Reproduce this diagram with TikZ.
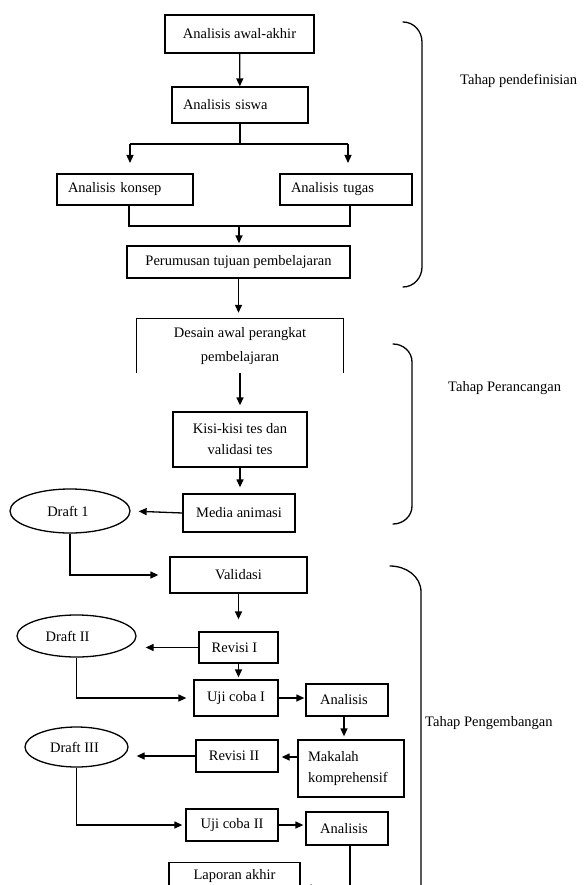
\documentclass[tikz,border=0pt]{standalone}
\usepackage{fontspec}
\setmainfont{Liberation Serif}
\usetikzlibrary{shapes.geometric,arrows.meta}
\begin{document}
\begin{tikzpicture}[x=1pt,y=-1pt,
  every node/.style={font=\fontsize{14.5}{21}\selectfont, inner sep=0pt},
  bx/.style={draw, line width=1.3pt, rectangle, align=center},
  lbx/.style={draw, line width=1.3pt, rectangle, align=left, inner xsep=11pt},
  el/.style={draw, line width=1.3pt, ellipse},
  ar/.style={-{Triangle[length=8pt,width=7pt]}, line width=1.3pt},
  ln/.style={line width=1.3pt},
  brc/.style={line width=1.3pt, line cap=round}]
\useasboundingbox (0,0) rectangle (588,885);
\clip (0,0) rectangle (588,885);

% ---- Tahap pendefinisian ----
\node[bx, minimum width=149pt, minimum height=38pt] (b1) at (239.5,34) {Analisis awal-akhir};
\node[lbx, text width=114pt, minimum height=36pt] (b2) at (240,105) {Analisis siswa};
\node[lbx, text width=114pt, minimum height=31pt] (b3) at (125,189.5) {Analisis konsep};
\node[lbx, text width=110pt, minimum height=31pt] (b4) at (346,189.5) {Analisis tugas};
\node[bx, minimum width=223pt, minimum height=32pt] (b5) at (238.5,262) {Perumusan tujuan pembelajaran};

\coordinate (s) at (240,144);
\coordinate (sl) at (130,144);
\coordinate (sr) at (348,144);
\coordinate (tl) at (130,163);
\coordinate (tr) at (348,163);
\coordinate (j) at (239,226);

\draw[ar] (b1) -- (b2);
\draw[ln] (b2.south) -- (s);
\draw[ln] (sl) -- (sr);
\draw[ar] (sl) -- (tl);
\draw[ar] (sr) -- (tr);
\draw[ln] ([xshift=4pt]b3.south) |- (j) -| ([xshift=4pt]b4.south);
\draw[ar, shorten >=2pt] (j) -- (j |- b5.north);

% ---- Tahap perancangan ----
\node[font=\fontsize{14.5}{24}\selectfont, align=center, minimum width=206pt, minimum height=54pt] (desain) at (240,346) {Desain awal perangkat\\pembelajaran};
\draw[ln] (desain.south west) -- (desain.north west) -- (desain.north east) -- (desain.south east);
\node[bx, minimum width=134pt, minimum height=55pt] (b6) at (240,439.5) {Kisi-kisi tes dan\\validasi tes};
\node[bx, minimum width=112pt, minimum height=38pt] (b7) at (239,513) {Media animasi};
\node[el, minimum width=120pt, minimum height=44pt] (e1) at (70,511) {Draft 1\hspace*{4pt}};

\draw[ar, shorten >=6pt] (b5.south) -- (b5.south |- desain.north);
\draw[ar, shorten >=6pt] (desain.south) -- (b6.north);
\draw[ar, shorten >=6pt] (b6.south) -- (b6.south |- b7.north);
\draw[ar, shorten >=8pt] (b7.west) -- (e1.east);

% ---- Tahap pengembangan ----
\node[bx, minimum width=137pt, minimum height=36pt] (b8) at (238.5,575) {Validasi};
\node[bx, minimum width=79pt, minimum height=31pt] (b9) at (238.5,647.5) {Revisi I\hspace*{8pt}};
\node[el, minimum width=119pt, minimum height=42pt] (e2) at (76.5,636) {Draft II\hspace*{18pt}};
\node[bx, minimum width=84pt, minimum height=36pt] (b10) at (236,698) {Uji coba I};
\node[bx, minimum width=82pt, minimum height=32pt] (b11) at (347,700) {Analisis\hspace*{6pt}};
\node[lbx, text width=86pt, minimum height=57pt, inner xsep=10pt] (b12) at (351,768.5) {Makalah\\komprehensif};
\node[bx, minimum width=82pt, minimum height=32pt] (b13) at (237,756) {Revisi II\hspace*{6pt}};
\node[el, minimum width=103pt, minimum height=40pt] (e3) at (76.5,747) {Draft III\hspace*{4pt}};
\node[bx, minimum width=92pt, minimum height=32pt] (b14) at (232,825) {Uji coba II};
\node[bx, minimum width=82pt, minimum height=33pt] (b15) at (347,828.5) {Analisis\hspace*{6pt}};
\node[bx, anchor=north, minimum width=131pt, inner ysep=7pt] (b16) at (234.5,862) {Laporan akhir};

\coordinate (k) at (350,888);

\draw[ar, shorten >=11pt] (e1.south) |- (b8.west);
\draw[ar, shorten >=12pt] (b8.south) -- (b8.south |- b9.north);
\draw[ar, shorten >=9pt] (b9.west) -- (b9.west -| e2.east);
\draw[ar, shorten >=2pt] (b9.south) -- (b9.south |- b10.north);
\draw[ar, shorten >=7pt] (e2.south) |- (b10.west);
\draw[ar, shorten >=1pt] (b10.east) -- (b10.east -| b11.west);
\draw[ar, shorten >=3pt] ([xshift=-3pt]b11.south) -- ([xshift=-3pt]b11.south |- b12.north);
\draw[ar, shorten >=3pt] (b12.west |- 0,757) -- (b13.east |- 0,757);
\draw[ar, shorten >=8pt] (b13.west) -- (b13.west -| e3.east);
\draw[ar, shorten >=3pt] (e3.south) |- (b14.west);
\draw[ar, shorten >=2pt] (b14.east) -- (b14.east -| b15.west);
\draw[ar, shorten >=3pt] ([xshift=3pt]b15.south) -- (k) -- (k -| b16.east);

% ---- braces and phase labels ----
\draw[brc] (403,22) to[out=0,in=90] (422,42) -- (422,267) to[out=-90,in=0] (403,287);
\draw[brc] (393,344) to[out=0,in=90] (412,362) -- (412,506) to[out=-90,in=0] (393,524);
\draw[brc] (390,566) to[out=0,in=90] (421,592) -- (421,890);

\node[anchor=west] (l1) at (460,81) {Tahap pendefinisian};
\node[anchor=west] (l2) at (448,388) {Tahap Perancangan};
\node[anchor=west] (l3) at (425,723) {Tahap Pengembangan};
\end{tikzpicture}
\end{document}
